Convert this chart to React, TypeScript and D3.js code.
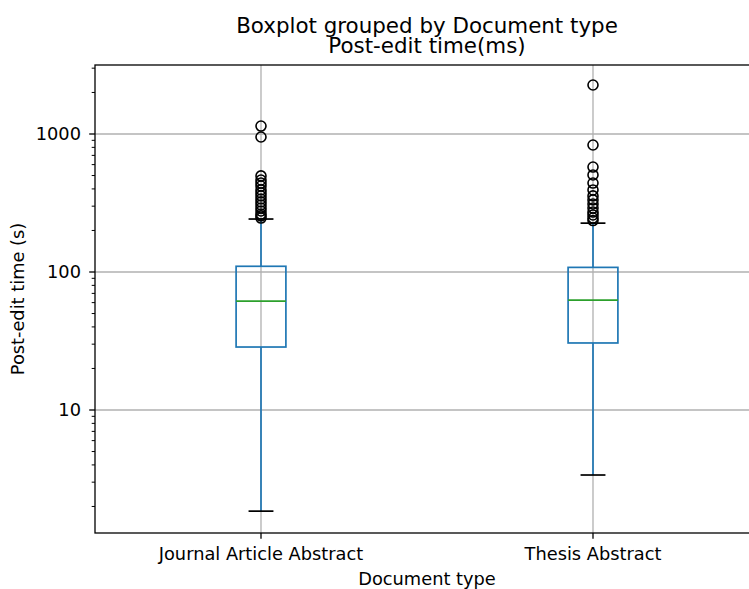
import React from "react";
import * as d3 from "d3";

// box statistics (seconds, log axis)
const categories = ["Journal Article Abstract", "Thesis Abstract"];
const whiskerLow = [1.85, 3.38];
const q1 = [28.6, 30.6];
const median = [61.6, 62.6];
const q3 = [110, 108];
const whiskerHigh = [242, 226];
const outliersJournal = [1142, 951, 497, 464, 441, 420, 393, 374, 356, 338, 322, 306, 291, 277, 263, 255, 246];
const outliersThesis = [2265, 832, 576, 505, 441, 393, 356, 333, 311, 291, 272, 259, 246, 236];
const outliers = [outliersJournal, outliersThesis];
const yTicks = [10, 100, 1000];

const W = 749;
const H = 589;
const left = 95;
const right = 759;
const top = 65;
const bottom = 533;
const font = "DejaVu Sans, sans-serif";
const blue = "#1f77b4";

export default function App() {
  const x = d3.scaleLinear().domain([0.5, 2.5]).range([left, right]);
  const y = d3.scaleLog().domain([Math.pow(10, 0.1087), Math.pow(10, 3.5)]).range([bottom, top]);
  const boxW = x(1.15) - x(1);
  const capW = x(1.075) - x(1);

  const minor: number[] = [];
  [1, 10, 100, 1000].forEach((d) => {
    for (let k = 2; k <= 9; k++) {
      const v = d * k;
      if (v > y.domain()[0] && v < y.domain()[1]) minor.push(v);
    }
  });

  return (
    <svg width={W} height={H} style={{ position: "absolute", left: 0, top: 0, background: "#fff" }}>
      {/* grid */}
      <g stroke="#b0b0b0" strokeWidth={1.3}>
        {yTicks.map((t) => (
          <line key={t} x1={left} x2={right} y1={y(t)} y2={y(t)} />
        ))}
        {categories.map((c, i) => (
          <line key={c} x1={x(i + 1)} x2={x(i + 1)} y1={top} y2={bottom} />
        ))}
      </g>

      {/* boxes */}
      {categories.map((c, i) => {
        const cx = x(i + 1);
        return (
          <g key={c}>
            <line x1={cx} x2={cx} y1={y(q3[i])} y2={y(whiskerHigh[i])} stroke={blue} strokeWidth={1.7} />
            <line x1={cx} x2={cx} y1={y(q1[i])} y2={y(whiskerLow[i])} stroke={blue} strokeWidth={1.7} />
            <rect x={cx - boxW / 2} y={y(q3[i])} width={boxW} height={y(q1[i]) - y(q3[i])}
              fill="none" stroke={blue} strokeWidth={1.7} />
            <line x1={cx - boxW / 2} x2={cx + boxW / 2} y1={y(median[i])} y2={y(median[i])} stroke="#2ca02c" strokeWidth={1.7} />
            <line x1={cx - capW / 2} x2={cx + capW / 2} y1={y(whiskerHigh[i])} y2={y(whiskerHigh[i])} stroke="#000" strokeWidth={1.7} />
            <line x1={cx - capW / 2} x2={cx + capW / 2} y1={y(whiskerLow[i])} y2={y(whiskerLow[i])} stroke="#000" strokeWidth={1.7} />
            {outliers[i].map((v, j) => (
              <circle key={j} cx={cx} cy={y(v)} r={5} fill="none" stroke="#000" strokeWidth={1.6} />
            ))}
          </g>
        );
      })}

      {/* spines */}
      <rect x={left} y={top} width={right - left} height={bottom - top} fill="none" stroke="#000" strokeWidth={1.3} />

      {/* y ticks */}
      {yTicks.map((t) => (
        <g key={t}>
          <line x1={left - 5.8} x2={left} y1={y(t)} y2={y(t)} stroke="#000" strokeWidth={1.3} />
          <text x={left - 14} y={y(t)} dy="0.35em" textAnchor="end" fontSize={17.8} fontFamily={font}>{t}</text>
        </g>
      ))}
      {minor.map((t) => (
        <line key={t} x1={left - 3.3} x2={left} y1={y(t)} y2={y(t)} stroke="#000" strokeWidth={1} />
      ))}

      {/* x ticks */}
      {categories.map((c, i) => (
        <g key={c}>
          <line x1={x(i + 1)} x2={x(i + 1)} y1={bottom} y2={bottom + 5.8} stroke="#000" strokeWidth={1.3} />
          <text x={x(i + 1)} y={bottom + 27} textAnchor="middle" fontSize={17.8} fontFamily={font}>{c}</text>
        </g>
      ))}

      <text x={(left + right) / 2} y={585} textAnchor="middle" fontSize={17.8} fontFamily={font}>Document type</text>
      <text transform={`translate(24,${(top + bottom) / 2}) rotate(-90)`} textAnchor="middle" fontSize={17.8} fontFamily={font}>
        Post-edit time (s)
      </text>
      <text x={(left + right) / 2} y={33} textAnchor="middle" fontSize={21.4} fontFamily={font}>Boxplot grouped by Document type</text>
      <text x={(left + right) / 2} y={53} textAnchor="middle" fontSize={21.4} fontFamily={font}>Post-edit time(ms)</text>
    </svg>
  );
}
